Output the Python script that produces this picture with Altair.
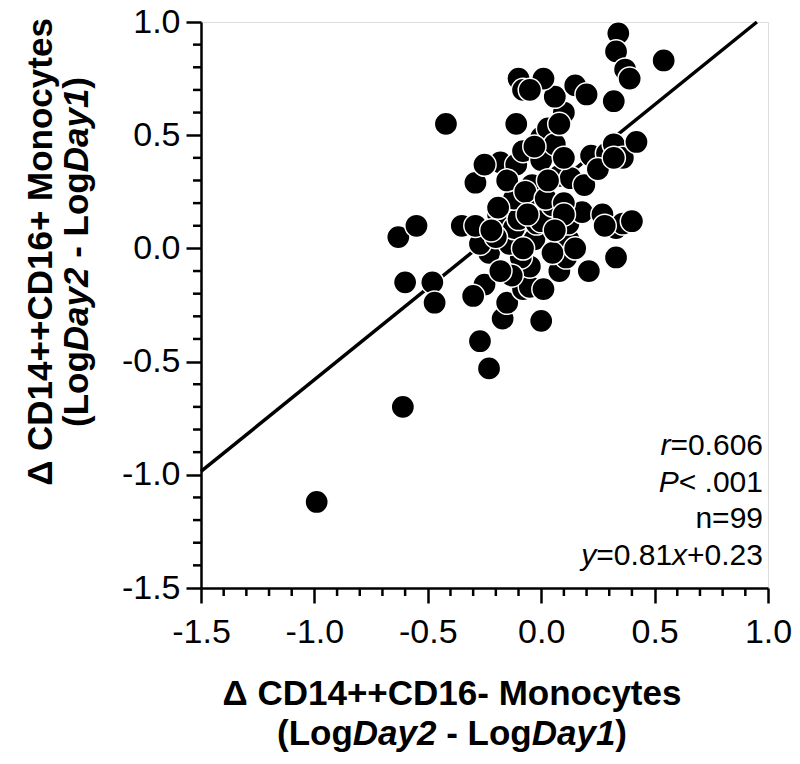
import altair as alt
import pandas as pd

# ---- data ----
x_vals = [-0.99, -0.61, -0.23, -0.27, 0.00, -0.17, -0.60, -0.48, -0.47, -0.63,
          -0.55, -0.42, -0.25, -0.30, -0.15, -0.08, -0.05, 0.01, -0.05, -0.09,
          0.08, 0.21, 0.33, 0.11, -0.23, -0.27, -0.14, -0.03, 0.12, -0.35,
          -0.29, -0.19, -0.12, -0.10, -0.02, 0.00, 0.12, 0.18, 0.27, 0.33,
          0.36, 0.40, 0.05, -0.12, -0.19, -0.29, -0.04, 0.08, 0.13, 0.19,
          -0.18, -0.25, -0.11, -0.08, 0.00, 0.00, 0.03, 0.06, 0.22, 0.29,
          0.32, 0.36, 0.42, -0.11, 0.10, 0.06, -0.10, -0.08, 0.01, -0.05,
          0.15, 0.20, 0.32, 0.34, 0.33, 0.37, 0.39, 0.54, -0.15, -0.07,
          0.02, 0.10, -0.20, -0.08, 0.05, 0.15, -0.13, 0.03, 0.25, 0.10,
          -0.03, 0.08, 0.28, -0.18, 0.10, -0.06, 0.06, 0.32, -0.22]
y_vals = [-1.12, -0.70, -0.53, -0.41, -0.32, -0.31, -0.15, -0.15, -0.24, 0.05,
          0.10, 0.55, -0.16, -0.21, -0.24, -0.18, -0.17, -0.18, -0.08, -0.04,
          -0.10, -0.10, -0.04, -0.04, -0.02, 0.02, 0.02, 0.04, 0.04, 0.10,
          0.10, 0.15, 0.09, 0.13, 0.11, 0.12, 0.11, 0.16, 0.15, 0.09,
          0.11, 0.12, 0.19, 0.22, 0.18, 0.29, 0.28, 0.32, 0.31, 0.28,
          0.38, 0.37, 0.37, 0.43, 0.39, 0.49, 0.53, 0.46, 0.41, 0.42,
          0.46, 0.40, 0.47, 0.55, 0.60, 0.67, 0.75, 0.70, 0.75, 0.70,
          0.72, 0.68, 0.65, 0.95, 0.87, 0.79, 0.75, 0.83, 0.30, 0.25,
          0.22, 0.20, 0.05, 0.00, -0.02, 0.00, -0.12, 0.30, 0.35, 0.40,
          0.45, 0.55, 0.10, -0.10, 0.15, 0.15, 0.08, 0.40, 0.08]

# regression line endpoints (y = 0.81x + 0.23, clipped to the frame)
line_x = [-1.5, 0.951]
line_y = [-0.985, 1.0]

major_ticks = [-1.5, -1.0, -0.5, 0.0, 0.5, 1.0]
minor_ticks = [-1.4, -1.3, -1.2, -1.1, -0.9, -0.8, -0.7, -0.6,
               -0.4, -0.3, -0.2, -0.1, 0.1, 0.2, 0.3, 0.4,
               0.6, 0.7, 0.8, 0.9]

x_title_1 = "\u0394 CD14++CD16- Monocytes"
y_title_1 = "\u0394 CD14++CD16+ Monocytes"
# (text, style); a None text stands for a word space
title_2_parts = [("(Log", "normal"), ("Day2", "italic"), (None, ""), ("-", "normal"),
                 (None, ""), ("Log", "normal"), ("Day1", "italic"), (")", "normal")]
stat_lines = [
    [("r", "italic"), ("=0.606", "normal")],
    [("P", "italic"), ("< .001", "normal")],
    [("n=99", "normal")],
    [("y", "italic"), ("=0.81", "normal"), ("x", "italic"), ("+0.23", "normal")],
]

# ---- styling ----
FONT = "Liberation Sans"
LEFT, TOP = 193, 14
W, H = 567, 566
OX, OY = 8 + LEFT, 8 + TOP  # page position of the plot origin
LABEL_SIZE = 34
TITLE_SIZE = 35
STAT_SIZE = 30
MAJOR_LEN, MINOR_LEN, TICK_W = 15, 8, 2.5

REG_W = {**{d: 0.556 for d in "0123456789"}, ".": 0.278, "=": 0.584, "+": 0.584,
         "<": 0.584, " ": 0.278, "n": 0.556, "x": 0.5, "y": 0.5, "r": 0.333, "P": 0.667}
BOLD_W = {"(": 0.333, ")": 0.333, "L": 0.611, "o": 0.611, "g": 0.611, "D": 0.722,
          "a": 0.556, "y": 0.556, "2": 0.556, "1": 0.556, " ": 0.278, "-": 0.333}


def text_width(s, table, size):
    if s is None:
        s = " "
    return sum(table.get(c, 0.556) for c in s) * size


def seg(text, px, py, size, weight="normal", style="normal", align="left", angle=0):
    return alt.Chart(pd.DataFrame({"t": [text]})).mark_text(
        align=align, baseline="alphabetic", font=FONT, fontSize=size,
        fontWeight=weight, fontStyle=style, angle=angle, color="black"
    ).encode(x=alt.value(px), y=alt.value(py), text="t:N")


label_expr = "datum.value < 0 ? '-' + format(-datum.value, '.1f') : format(datum.value, '.1f')"

scale_x = alt.Scale(domain=[-1.5, 1.0], nice=False, zero=False)
scale_y = alt.Scale(domain=[-1.5, 1.0], nice=False, zero=False)

axis_common = dict(values=major_ticks, labelExpr=label_expr, tickSize=MAJOR_LEN,
                   labelOverlap=False, labelFlush=False, title=None, grid=False,
                   domainColor="black", domainWidth=2.5, tickColor="black",
                   tickWidth=TICK_W, labelColor="black", labelFont=FONT,
                   labelFontSize=LABEL_SIZE)

pts = pd.DataFrame({"x": x_vals, "y": y_vals})
line_df = pd.DataFrame({"x": line_x, "y": line_y})
minor_df = pd.DataFrame({"v": minor_ticks})

line = alt.Chart(line_df).mark_line(color="black", strokeWidth=3.5).encode(
    x=alt.X("x:Q", scale=scale_x, axis=alt.Axis(labelPadding=12, **axis_common)),
    y=alt.Y("y:Q", scale=scale_y, axis=alt.Axis(labelPadding=6, **axis_common)),
)

minor_x = alt.Chart(minor_df).mark_rule(color="black", strokeWidth=TICK_W).encode(
    x=alt.X("v:Q", scale=scale_x), y=alt.value(H), y2=alt.value(H + MINOR_LEN))
minor_y = alt.Chart(minor_df).mark_rule(color="black", strokeWidth=TICK_W).encode(
    y=alt.Y("v:Q", scale=scale_y), x=alt.value(0), x2=alt.value(-MINOR_LEN))

points = alt.Chart(pts).mark_point(
    shape="circle", filled=True, fill="black", stroke="white", strokeWidth=1.5,
    size=540, opacity=1
).encode(x=alt.X("x:Q", scale=scale_x), y=alt.Y("y:Q", scale=scale_y))

layers = [line, minor_x, minor_y, points]

# x-axis title (page positions converted to plot-relative ones)
xc = 452 - OX
layers.append(seg(x_title_1, xc, 705 - OY, TITLE_SIZE, weight="bold", align="center"))
tw = sum(text_width(t, BOLD_W, TITLE_SIZE) for t, _ in title_2_parts)
cx = xc - tw / 2
for t, st in title_2_parts:
    if t is not None:
        layers.append(seg(t, cx, 745 - OY, TITLE_SIZE, weight="bold", style=st))
    cx += text_width(t, BOLD_W, TITLE_SIZE)

# y-axis title (rotated)
yc = 252 - OY
layers.append(seg(y_title_1, 52 - OX, yc, TITLE_SIZE, weight="bold", align="center", angle=270))
cy = yc + tw / 2
for t, st in title_2_parts:
    if t is not None:
        layers.append(seg(t, 88 - OX, cy, TITLE_SIZE, weight="bold", style=st, angle=270))
    cy -= text_width(t, BOLD_W, TITLE_SIZE)

# statistics block (right aligned)
right = 763 - OX
base = 455 - OY
for i, parts in enumerate(stat_lines):
    px = right
    for t, st in reversed(parts):
        layers.append(seg(t, px, base + i * 36.5, STAT_SIZE, style=st, align="right"))
        px -= text_width(t, REG_W, STAT_SIZE)

chart = alt.layer(*layers).properties(
    width=W, height=H,
    autosize=alt.AutoSizeParams(type="none"),
    padding={"left": LEFT, "top": TOP, "right": 24, "bottom": 164},
).configure_view(stroke="black", strokeWidth=2.5).configure(background="white")

chart.save("out.html", embed_options={"renderer": "svg", "actions": False})
